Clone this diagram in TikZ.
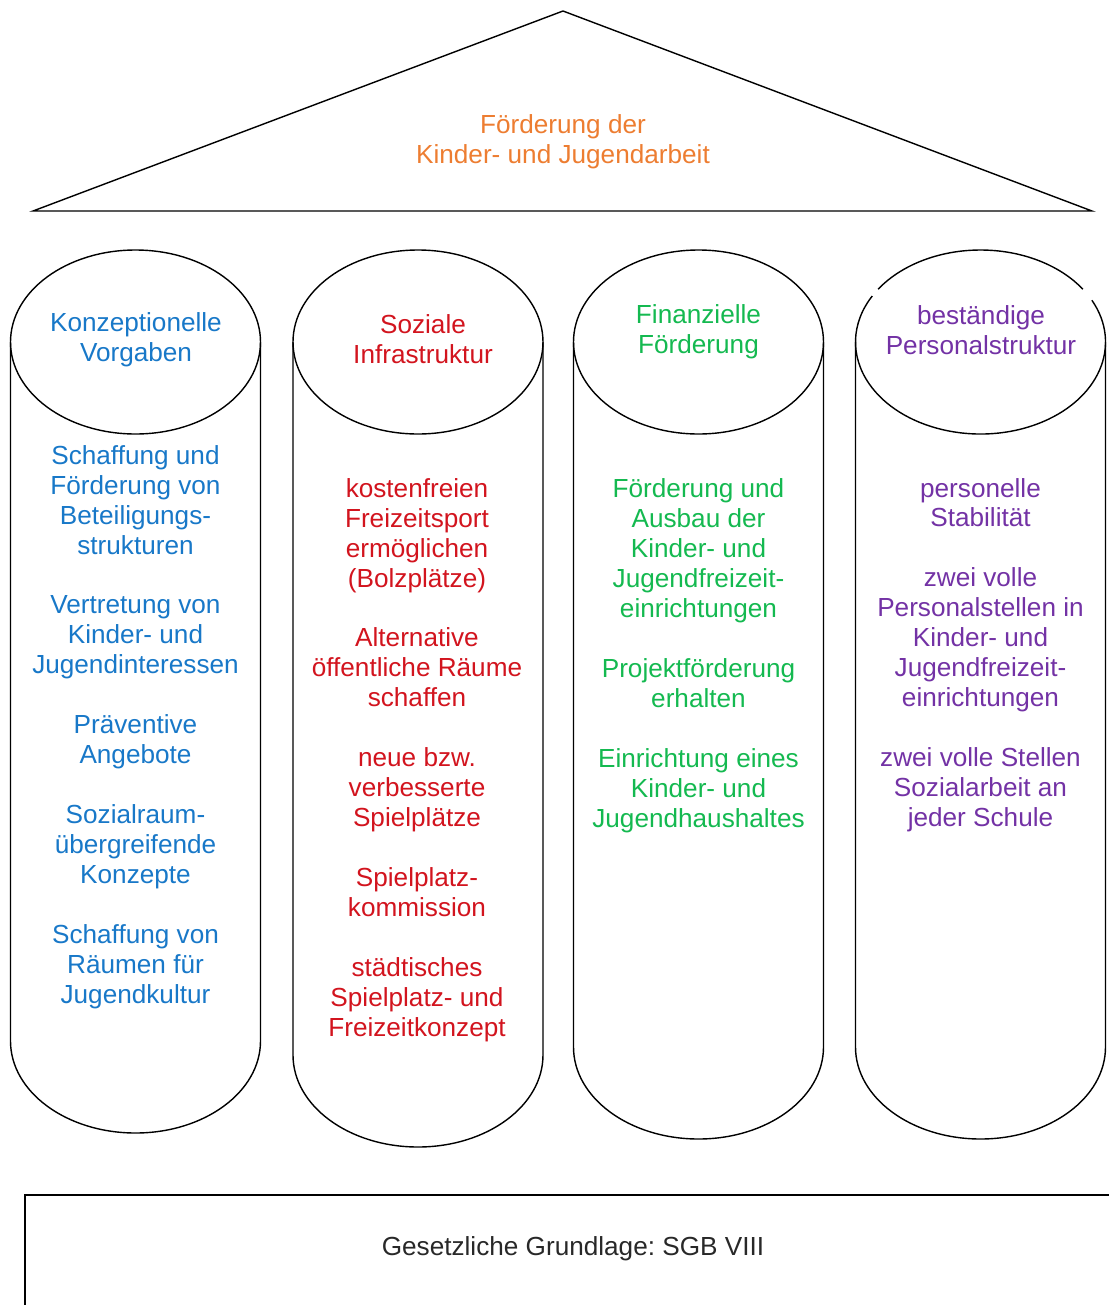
\documentclass[tikz,border=0pt]{standalone}
\usepackage{fontspec}
\setmainfont{Liberation Sans}
\usetikzlibrary{positioning}
\definecolor{roofor}{RGB}{237,125,49}
\definecolor{konzblue}{RGB}{24,120,200}
\definecolor{sozred}{RGB}{210,20,30}
\definecolor{fingreen}{RGB}{20,185,80}
\definecolor{perspurple}{RGB}{115,50,165}
\definecolor{basegray}{RGB}{40,40,40}

\begin{document}
\begin{tikzpicture}[x=0.025cm,y=-0.025cm,line width=1pt,
  every node/.style={inner sep=.5mm,align=center,font=\fontsize{18.6}{21.3}\selectfont}]
 \useasboundingbox (0,0) rectangle (1109,1305);

 \draw (33,211) -- (563,11) -- (1092,211) -- cycle;

 \foreach \x/\b in {135.5/1041,418/1055,698.5/1047}{
  \draw (\x,342) ellipse (125 and 92);
  \draw (\x-125,342) -- (\x-125,\b) arc (180:0:125 and 92) -- (\x+125,342);
 }
 \draw ([shift={(215:125 and 92)}]980.5,342) arc (215:325:125 and 92);
 \draw ([shift={(333:125 and 92)}]980.5,342) arc (333:570:125 and 92);
 \draw (855.5,342) -- (855.5,1047) arc (180:0:125 and 92) -- (1105.5,342);

 \draw (1120,1195) -| (25,1320);

 \node[text=roofor] (roof) at (563,142) {Förderung der\\Kinder- und Jugendarbeit};

 \node[text=konzblue] (konz) at (136,339.5) {Konzeptionelle\\Vorgaben};
 \node[text=sozred] (soz) at (423,339.5) {Soziale\\Infrastruktur};
 \node[text=fingreen] (fin) at (698.5,331.5) {Finanzielle\\Förderung};
 \node[text=perspurple] (pers) at (981,330.5) {beständige\\Personalstruktur};

 \node[text=konzblue] (konzlist) at (135.5,727) {Schaffung und\\Förderung von\\Beteiligungs-\\strukturen\\[21.3pt]
  Vertretung von\\Kinder- und\\Jugendinteressen\\[21.3pt]
  Präventive\\Angebote\\[21.3pt]
  Sozialraum-\\übergreifende\\Konzepte\\[21.3pt]
  Schaffung von\\Räumen für\\Jugendkultur};
 \node[text=sozred] (sozlist) at (417,760) {kostenfreien\\Freizeitsport\\ermöglichen\\(Bolzplätze)\\[21.3pt]
  Alternative\\öffentliche Räume\\schaffen\\[21.3pt]
  neue bzw.\\verbesserte\\Spielplätze\\[21.3pt]
  Spielplatz-\\kommission\\[21.3pt]
  städtisches\\Spielplatz- und\\Freizeitkonzept};
 \node[text=fingreen] (finlist) at (698.5,655.5) {Förderung und\\Ausbau der\\Kinder- und\\Jugendfreizeit-\\einrichtungen\\[21.3pt]
  Projektförderung\\erhalten\\[21.3pt]
  Einrichtung eines\\Kinder- und\\Jugendhaushaltes};
 \node[text=perspurple] (perslist) at (980.5,655) {personelle\\Stabilität\\[21.3pt]
  zwei volle\\Personalstellen in\\Kinder- und\\Jugendfreizeit-\\einrichtungen\\[21.3pt]
  zwei volle Stellen\\Sozialarbeit an\\jeder Schule};

 \node[text=basegray] (sgb) at (573,1249) {Gesetzliche Grundlage:\ SGB VIII};
\end{tikzpicture}
\end{document}
